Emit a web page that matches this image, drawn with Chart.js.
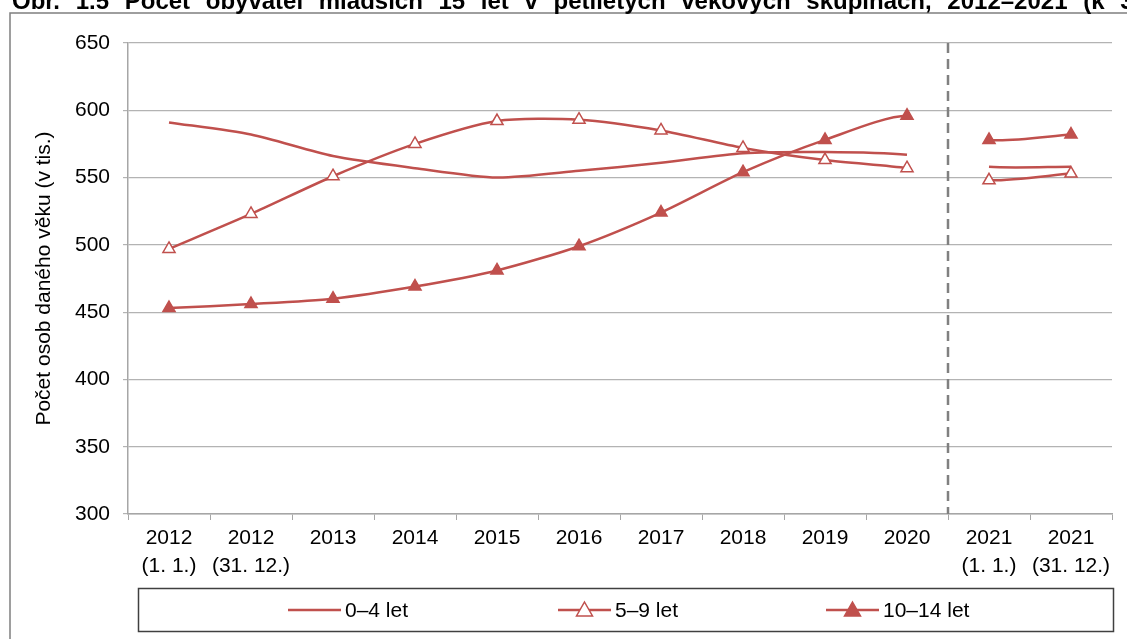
<!DOCTYPE html>
<html lang="cs">
<head>
<meta charset="utf-8">
<title>Počet obyvatel mladších 15 let</title>
<script src="https://cdn.jsdelivr.net/npm/chart.js@4/dist/chart.umd.min.js"></script>
<style>
  html, body { margin: 0; padding: 0; background: #fff; }
  #wrap { width: 1127px; height: 639px; position: relative; }
</style>
</head>
<body>
<div id="wrap"><canvas id="graf" width="1127" height="639"></canvas></div>
<script>
// data
const kategorie = [
    ['2012', '(1. 1.)'], ['2012', '(31. 12.)'], '2013', '2014', '2015', '2016',
    '2017', '2018', '2019', '2020', ['2021', '(1. 1.)'], ['2021', '(31. 12.)']
];
const vek0_4   = [591, 582, 566, 557, 550, 555, 561, 568, 569, 567, 558, 558];
const vek5_9   = [497, 523, 551, 575, 592, 593, 585, 572, 563, 557, 548, 553];
const vek10_14 = [453, 456, 460, 469, 481, 499, 524, 554, 578, 596, 578, 582];
const nazvySerii = ['0–4 let', '5–9 let', '10–14 let'];
const osaY = { min: 300, max: 650, krok: 50 };
const mezeraZa = 9; // čára se přerušuje mezi 2020 a 2021 (1. 1.)

const nadpis = 'Obr. 1.5 Počet obyvatel mladších 15 let v pětiletých věkových skupinách, 2012–2021 (k 31. 12.)';
const CERVENA = '#c0504d';
const FONT = '"Liberation Sans", Arial, sans-serif';

// přerušení čáry mezi dvěma částmi řady
const segmentMezera = {
    borderColor: ctx => ctx.p0DataIndex === mezeraZa ? 'rgba(0,0,0,0)' : undefined
};

function rada(label, data, styl, vypln) {
    return {
        label: label,
        data: data,
        borderColor: CERVENA,
        borderWidth: 2.5,
        backgroundColor: vypln,
        pointStyle: styl,
        pointRadius: styl ? 7 : 0,
        pointBorderWidth: 1.5,
        pointBorderColor: CERVENA,
        pointBackgroundColor: vypln,
        tension: 0.25,
        segment: segmentMezera
    };
}

// rámeček, nadpis (oříznutý nahoře), svislá přerušovaná čára a legenda
const doplnky = {
    id: 'doplnky',
    beforeDraw(chart) {
        const c = chart.ctx;
        c.save();
        c.fillStyle = '#fff';
        c.fillRect(0, 0, chart.width, chart.height);
        c.strokeStyle = '#7f7f7f';
        c.lineWidth = 1.5;
        c.strokeRect(10, 13, chart.width + 20, chart.height + 20);
        c.fillStyle = '#000';
        c.font = 'bold 24px ' + FONT;
        c.textBaseline = 'alphabetic';
        c.wordSpacing = '9px';
        c.fillText(nadpis, 12, 9);
        c.restore();
    },
    afterDatasetsDraw(chart) {
        const c = chart.ctx;
        const x = chart.scales.x;
        const area = chart.chartArea;
        const px = (x.getPixelForValue(mezeraZa) + x.getPixelForValue(mezeraZa + 1)) / 2;
        c.save();
        c.strokeStyle = '#808080';
        c.lineWidth = 2.5;
        c.setLineDash([10, 6]);
        c.beginPath();
        c.moveTo(px, area.top);
        c.lineTo(px, area.bottom);
        c.stroke();
        c.restore();
    },
    afterDraw(chart) {
        const c = chart.ctx;
        c.save();
        c.strokeStyle = '#404040';
        c.lineWidth = 1.5;
        c.strokeRect(138.5, 588.5, 975, 43);
        const polozky = [
            { x: 288, styl: null },
            { x: 558, styl: 'open' },
            { x: 826, styl: 'full' }
        ];
        const y = 610;
        c.font = '21px ' + FONT;
        c.textBaseline = 'middle';
        polozky.forEach((p, i) => {
            c.strokeStyle = CERVENA;
            c.lineWidth = 2.5;
            c.beginPath();
            c.moveTo(p.x, y);
            c.lineTo(p.x + 53, y);
            c.stroke();
            if (p.styl) {
                const cx = p.x + 26.5;
                c.beginPath();
                c.moveTo(cx, y - 8);
                c.lineTo(cx + 8, y + 6);
                c.lineTo(cx - 8, y + 6);
                c.closePath();
                c.fillStyle = p.styl === 'open' ? '#fff' : CERVENA;
                c.fill();
                c.lineWidth = 1.5;
                c.stroke();
            }
            c.fillStyle = '#000';
            c.fillText(nazvySerii[i], p.x + 57, y + 1);
        });
        c.restore();
    }
};

new Chart(document.getElementById('graf'), {
    type: 'line',
    data: {
        labels: kategorie,
        datasets: [
            rada(nazvySerii[0], vek0_4, false, CERVENA),
            rada(nazvySerii[1], vek5_9, 'triangle', '#fff'),
            rada(nazvySerii[2], vek10_14, 'triangle', CERVENA)
        ]
    },
    options: {
        responsive: false,
        animation: false,
        layout: { padding: { top: 43, right: 15, bottom: 0, left: 0 } },
        plugins: {
            legend: { display: false },
            title: { display: false },
            tooltip: { enabled: false }
        },
        scales: {
            x: {
                offset: true,
                grid: {
                    offset: true,
                    drawOnChartArea: false,
                    drawTicks: true,
                    tickLength: 6,
                    color: '#a6a6a6'
                },
                border: { color: '#a6a6a6', width: 1.5 },
                ticks: {
                    color: '#000',
                    font: { family: FONT, size: 21, lineHeight: 1.3 },
                    padding: 5,
                    maxRotation: 0,
                    autoSkip: false
                },
                afterFit(scale) { scale.height = 125; }
            },
            y: {
                min: osaY.min,
                max: osaY.max,
                grid: { color: '#b3b3b3', lineWidth: 1.2, tickLength: 5 },
                border: { color: '#a6a6a6', width: 1.5 },
                ticks: {
                    stepSize: osaY.krok,
                    color: '#000',
                    font: { family: FONT, size: 21 },
                    padding: 13
                },
                title: {
                    display: true,
                    text: 'Počet osob daného věku (v tis.)',
                    color: '#000',
                    font: { family: FONT, size: 21 },
                    padding: { top: 32 }
                },
                afterFit(scale) { scale.width = 128; }
            }
        }
    },
    plugins: [doplnky]
});
</script>
</body>
</html>
